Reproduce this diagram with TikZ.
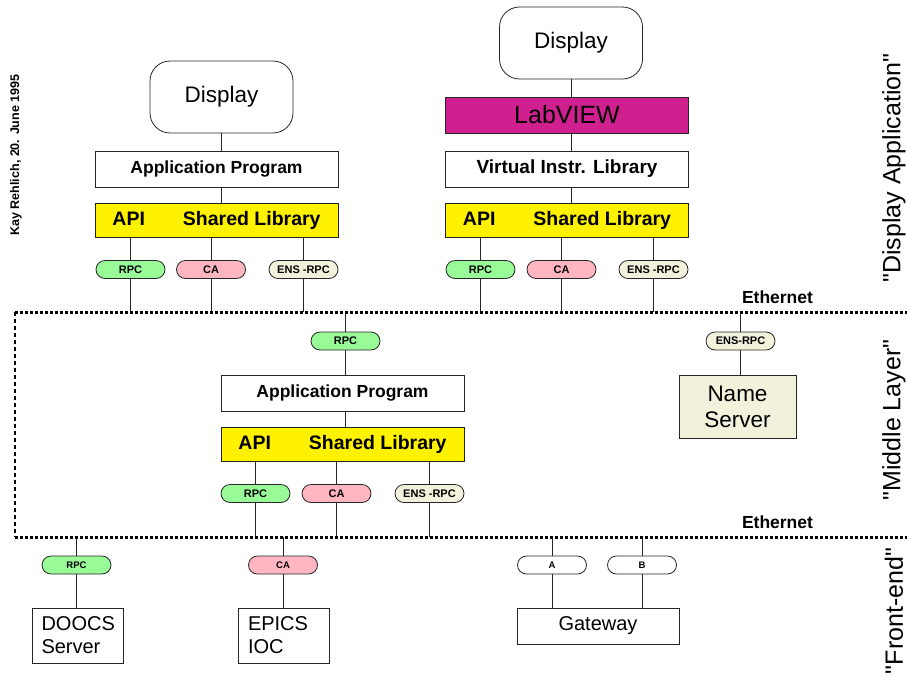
\documentclass[tikz,border=0pt]{standalone}
\usepackage{fontspec}
\setmainfont{Liberation Sans}
\definecolor{rpcgreen}{RGB}{152,251,152}
\definecolor{capink}{RGB}{255,182,193}
\definecolor{ensbeige}{RGB}{242,242,220}
\definecolor{labviolet}{RGB}{208,32,144}

\begin{document}
\begin{tikzpicture}[
    x=1pt, y=-1pt,
    link/.style={line width=0.8pt, draw=black!85},
    ether/.style={line width=3pt, dash pattern=on 3pt off 2pt},
    disp/.style={draw=black!85, line width=0.8pt, rounded corners=20pt, minimum width=143pt, minimum height=72pt, inner sep=0pt, font=\fontsize{22.5}{24}\selectfont},
    box/.style={draw=black!85, line width=0.8pt, minimum width=243pt, minimum height=36pt, inner sep=0pt, font=\fontsize{17.5}{20}\selectfont\bfseries},
    libbox/.style={box, fill=yellow, minimum height=34pt, font=\fontsize{19.5}{22}\selectfont\bfseries},
    labbox/.style={box, fill=labviolet, font=\fontsize{25}{27}\selectfont},
    pill/.style={draw=black!85, line width=0.8pt, rounded corners=9pt, minimum width=69pt, minimum height=18pt, inner sep=0pt, font=\fontsize{11}{12}\selectfont\bfseries},
    smallpill/.style={font=\fontsize{9.5}{10}\selectfont\bfseries},
    rpc/.style={pill, fill=rpcgreen},
    ca/.style={pill, fill=capink},
    ens/.style={pill, fill=ensbeige},
    fe/.style={draw=black!85, line width=0.8pt, minimum width=91pt, minimum height=55pt, text width=72pt, align=left, inner sep=0pt, font=\fontsize{20}{23}\selectfont},
    ethlabel/.style={font=\fontsize{17.5}{20}\selectfont\bfseries},
    side/.style={rotate=90, font=\fontsize{25}{27}\selectfont}
  ]
  \useasboundingbox (0,0) rectangle (907,675);
  \coordinate (ethtop) at (15,312);
  \coordinate (ethbot) at (15,537);

  \node[disp] (dispL) at (221.5,97) {Display};
  \node[box] (appL) at (216.5,169) {Application Program};
  \node[libbox] (libL) at (216.5,220) {API\hspace*{38pt}Shared Library};
  \node[rpc] (rpcL) at (130.5,269.5) {RPC};
  \node[ca] (caL) at (211,269.5) {CA};
  \node[ens] (ensL) at (303.5,269.5) {ENS -RPC};

  \node[disp] (dispR) at (571,43) {Display};
  \node[labbox] (lab) at (567,115) {LabVIEW};
  \node[box, font=\fontsize{19}{21}\selectfont\bfseries] (vil) at (567,169) {Virtual Instr. Library};
  \node[libbox] (libR) at (567,220) {API\hspace*{38pt}Shared Library};
  \node[rpc] (rpcR) at (480.5,269.5) {RPC};
  \node[ca] (caR) at (561.5,269.5) {CA};
  \node[ens] (ensR) at (653.5,269.5) {ENS -RPC};

  \node[rpc] (rpcM) at (345.5,341) {RPC};
  \node[box] (appM) at (342.5,393) {Application Program};
  \node[libbox] (libM) at (342.5,444.5) {API\hspace*{38pt}Shared Library};
  \node[rpc] (rpcM2) at (255.5,493.5) {RPC};
  \node[ca] (caM) at (336.5,493.5) {CA};
  \node[ens] (ensM) at (429.5,493.5) {ENS -RPC};

  \node[ens] (ensN) at (740.5,341) {ENS-RPC};
  \node[draw=black!85, line width=0.8pt, fill=ensbeige, minimum width=117pt, minimum height=63pt, align=center, font=\fontsize{22.5}{26}\selectfont] (ns) at (737.5,406.5) {Name\\Server};

  \node[rpc, smallpill] (rpcB) at (76.5,565) {RPC};
  \node[fe] (doocs) at (77.5,635.5) {DOOCS\\Server};
  \node[ca, smallpill] (caB) at (283,565) {CA};
  \node[fe] (epics) at (284,635.5) {EPICS\\IOC};
  \node[pill, smallpill, fill=white] (pA) at (552,565) {A};
  \node[pill, smallpill, fill=white] (pB) at (642,565) {B};
  \node[draw=black!85, line width=0.8pt, minimum width=162pt, minimum height=36pt, font=\fontsize{20}{22}\selectfont] (gw) at (598,626) {Gateway};

  \draw[link] (dispL.south) -- (dispL |- appL.north);
  \draw[link] (appL.south -| dispL) -- (libL.north -| dispL);
  \draw[link] (dispR.south) -- (dispR |- lab.north);
  \draw[link] (lab.south -| dispR) -- (vil.north -| dispR);
  \draw[link] (vil.south -| dispR) -- (libR.north -| dispR);
  \foreach \p in {rpcL,caL,ensL} {
    \draw[link] (\p |- libL.south) -- (\p.north);
    \draw[link] (\p.south) -- (\p |- ethtop);
  }
  \foreach \p in {rpcR,caR,ensR} {
    \draw[link] (\p |- libR.south) -- (\p.north);
    \draw[link] (\p.south) -- (\p |- ethtop);
  }
  \draw[link] (ethtop -| rpcM) -- (rpcM.north);
  \draw[link] (rpcM.south) -- (rpcM |- appM.north);
  \draw[link] (appM.south -| rpcM) -- (libM.north -| rpcM);
  \foreach \p in {rpcM2,caM,ensM} {
    \draw[link] (\p |- libM.south) -- (\p.north);
    \draw[link] (\p.south) -- (\p |- ethbot);
  }
  \draw[link] (ethtop -| ensN) -- (ensN.north);
  \draw[link] (ensN.south) -- (ensN |- ns.north);
  \foreach \p/\q in {rpcB/doocs, caB/epics, pA/gw, pB/gw} {
    \draw[link] (ethbot -| \p) -- (\p.north);
    \draw[link] (\p.south) -- (\p |- \q.north);
  }

  \draw[ether] (ethtop) -- (907,312);
  \draw[ether] (ethbot) -- (907,537);
  \draw[line width=1.2pt, dash pattern=on 4pt off 3pt] (ethtop) -- (ethbot);

  \node[ethlabel] (eth1) at (777.5,297) {Ethernet};
  \node[ethlabel] (eth2) at (777.5,522) {Ethernet};
  \node[side] (layD) at (894,168) {\textquotedbl Display Application\textquotedbl};
  \node[side] (layM) at (894,420) {\textquotedbl Middle Layer\textquotedbl};
  \node[side] (layF) at (894,611) {\textquotedbl Front-end\textquotedbl};
  \node[rotate=90, font=\fontsize{12.5}{14}\selectfont\bfseries] (author) at (16,155) {Kay Rehlich, 20. June 1995};
\end{tikzpicture}
\end{document}
